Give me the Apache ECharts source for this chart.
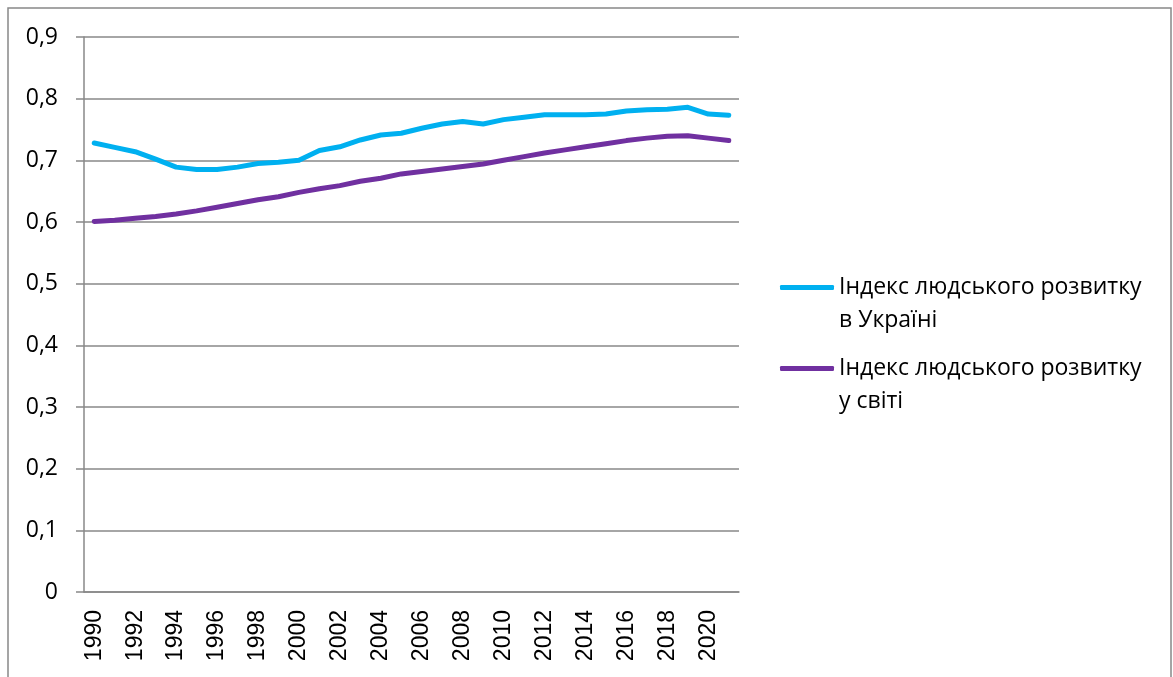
<!DOCTYPE html>
<html>
<head>
<meta charset="utf-8">
<title>Індекс людського розвитку</title>
<script src="https://cdn.jsdelivr.net/npm/echarts@6/dist/echarts.min.js"></script>
<style>
  html, body { margin: 0; padding: 0; background: #fff; }
  #chart { width: 1173px; height: 677px; }
</style>
</head>
<body>
<div id="chart"></div>
<script>
// data
var years = [];
for (var y = 1990; y <= 2021; y++) { years.push(String(y)); }

var ukraine = [0.728, 0.721, 0.714, 0.702, 0.689, 0.685, 0.685, 0.689, 0.695, 0.697,
               0.700, 0.716, 0.722, 0.733, 0.741, 0.744, 0.752, 0.759, 0.763, 0.759,
               0.766, 0.770, 0.774, 0.774, 0.774, 0.775, 0.780, 0.782, 0.783, 0.786,
               0.775, 0.773];
var world = [0.601, 0.603, 0.606, 0.609, 0.613, 0.618, 0.624, 0.630, 0.636, 0.641,
             0.648, 0.654, 0.659, 0.666, 0.671, 0.678, 0.682, 0.686, 0.690, 0.694,
             0.700, 0.706, 0.712, 0.717, 0.722, 0.727, 0.732, 0.736, 0.739, 0.740,
             0.736, 0.732];

var nameUa = "Індекс людського розвитку в Україні";
var nameWorld = "Індекс людського розвитку у світі";
// the leading empty line puts the first text line level with the legend line
var legendText = {};
legendText[nameUa] = " \nІндекс людського розвитку\nв Україні";
legendText[nameWorld] = " \nІндекс людського розвитку\nу світі";

var gray = "#888888";

function legendBox(name, top) {
    return {
        data: [name],
        orient: "vertical",
        left: 780,
        top: top,
        padding: 0,
        icon: "roundRect",
        itemWidth: 54,
        itemHeight: 5,
        itemGap: 0,
        formatter: function (n) { return legendText[n]; },
        selectedMode: false,
        textStyle: {
            fontFamily: "Open Sans",
            fontSize: 23,
            color: "#000",
            lineHeight: 33
        }
    };
}

var option = {
    animation: false,
    grid: { left: 84, right: 434, top: 37, bottom: 85 },
    graphic: [{
        type: "rect",
        shape: { x: 8, y: 8, width: 1163, height: 700 },
        style: { fill: null, stroke: gray, lineWidth: 1.5 },
        silent: true
    }],
    legend: [legendBox(nameUa, 238), legendBox(nameWorld, 319)],
    xAxis: {
        type: "category",
        data: years,
        boundaryGap: true,
        axisLine: { lineStyle: { color: gray, width: 1.5 } },
        axisTick: { interval: 0, length: 6, lineStyle: { color: gray, width: 1.5 } },
        axisLabel: {
            interval: 1,
            rotate: 90,
            margin: 18,
            fontFamily: "Liberation Sans",
            fontSize: 23,
            color: "#000"
        }
    },
    yAxis: {
        type: "value",
        min: 0,
        max: 0.9,
        interval: 0.1,
        axisLine: { show: true, lineStyle: { color: gray, width: 1.5 } },
        axisTick: { show: true, length: 8, lineStyle: { color: gray, width: 1.5 } },
        splitLine: { lineStyle: { color: gray, width: 1.5 } },
        axisLabel: {
            margin: 26,
            fontFamily: "Open Sans",
            fontSize: 23,
            color: "#000",
            formatter: function (v) {
                return v === 0 ? "0" : v.toFixed(1).replace(".", ",");
            }
        }
    },
    series: [
        {
            name: nameUa,
            type: "line",
            data: ukraine,
            showSymbol: false,
            color: "#00b0f0",
            lineStyle: { width: 5, cap: "round", join: "round" }
        },
        {
            name: nameWorld,
            type: "line",
            data: world,
            showSymbol: false,
            color: "#7030a0",
            lineStyle: { width: 5, cap: "round", join: "round" }
        }
    ]
};

var chart = echarts.init(document.getElementById("chart"));
chart.setOption(option);
</script>
</body>
</html>
